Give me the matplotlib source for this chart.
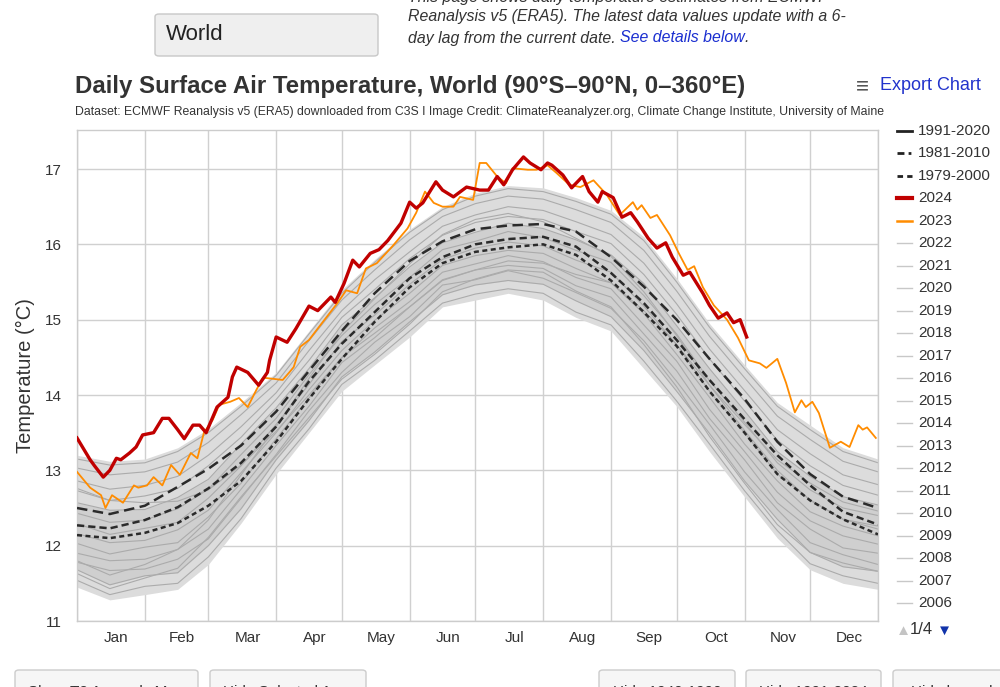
import numpy as np
import matplotlib
matplotlib.use("Agg")
from matplotlib import pyplot as plt
from matplotlib.patches import FancyBboxPatch
from matplotlib.lines import Line2D

plt.rcParams['font.family'] = ['Liberation Sans', 'DejaVu Sans']

# day-of-year grid (leap year) used for climatologies and the grey years
days = [0, 15, 31, 46, 60, 75, 91, 106, 121, 136, 152, 167, 182, 197, 213,
        228, 244, 259, 274, 289, 305, 320, 335, 350, 366]
month_starts = [0, 31, 60, 91, 121, 152, 182, 213, 244, 274, 305, 335, 366]
months = ["Jan", "Feb", "Mar", "Apr", "May", "Jun", "Jul", "Aug", "Sep",
          "Oct", "Nov", "Dec"]

clim_1991_2020 = [12.50, 12.42, 12.53, 12.78, 13.02, 13.33, 13.78, 14.32, 14.85, 15.35, 15.78, 16.04, 16.20,
                  16.25, 16.27, 16.17, 15.83, 15.44, 15.00, 14.48, 13.95, 13.38, 12.95, 12.65, 12.50]
clim_1981_2010 = [12.27, 12.23, 12.34, 12.51, 12.76, 13.10, 13.58, 14.18, 14.68, 15.10, 15.55, 15.83, 16.00,
                  16.07, 16.10, 15.97, 15.62, 15.22, 14.73, 14.20, 13.68, 13.20, 12.80, 12.45, 12.28]
clim_1979_2000 = [12.14, 12.10, 12.17, 12.30, 12.53, 12.86, 13.38, 13.95, 14.48, 14.97, 15.43, 15.75, 15.90,
                  15.96, 16.00, 15.86, 15.52, 15.10, 14.65, 14.05, 13.50, 12.95, 12.60, 12.35, 12.15]

# spread of the grey 1940-2022 years (lowest / highest)
grey_low = [11.45, 11.28, 11.35, 11.42, 11.75, 12.30, 12.95, 13.50, 14.05, 14.40, 14.77, 15.17, 15.26,
            15.35, 15.26, 15.03, 14.85, 14.35, 13.85, 13.25, 12.65, 12.10, 11.68, 11.50, 11.42]
grey_high = [13.20, 13.12, 13.15, 13.30, 13.55, 13.90, 14.30, 14.85, 15.40, 15.80, 16.20, 16.50, 16.68,
             16.78, 16.75, 16.62, 16.45, 16.10, 15.55, 14.95, 14.40, 13.90, 13.60, 13.30, 13.15]

grey_01 = [11.54, 11.35, 11.46, 11.50, 11.85, 12.36, 13.03, 13.55, 14.14, 14.46, 14.85, 15.22, 15.34,
           15.41, 15.35, 15.10, 14.93, 14.45, 13.92, 13.35, 12.73, 12.20, 11.76, 11.60, 11.50]
grey_02 = [11.68, 11.48, 11.60, 11.64, 12.00, 12.49, 13.14, 13.66, 14.24, 14.57, 14.97, 15.33, 15.46,
           15.52, 15.47, 15.25, 15.04, 14.59, 14.05, 13.49, 12.86, 12.35, 11.91, 11.72, 11.66]
grey_03 = [11.78, 11.67, 11.69, 11.82, 12.09, 12.63, 13.21, 13.79, 14.30, 14.70, 15.04, 15.46, 15.53,
           15.65, 15.55, 15.36, 15.15, 14.72, 14.18, 13.61, 12.98, 12.48, 12.04, 11.88, 11.75]
grey_04 = [11.90, 11.80, 11.82, 11.95, 12.22, 12.75, 13.33, 13.85, 14.43, 14.76, 15.17, 15.52, 15.66,
           15.72, 15.68, 15.45, 15.30, 14.81, 14.32, 13.69, 13.14, 12.57, 12.22, 11.97, 11.90]
grey_05 = [12.03, 11.89, 11.98, 12.04, 12.38, 12.83, 13.42, 13.96, 14.49, 14.89, 15.24, 15.63, 15.74,
           15.85, 15.77, 15.56, 15.41, 14.93, 14.45, 13.81, 13.25, 12.71, 12.33, 12.13, 12.02]
grey_06 = [12.16, 12.04, 12.07, 12.21, 12.47, 12.97, 13.50, 14.07, 14.59, 14.99, 15.35, 15.72, 15.85,
           15.92, 15.88, 15.68, 15.49, 15.08, 14.54, 13.97, 13.35, 12.86, 12.45, 12.26, 12.13]
grey_07 = [12.29, 12.15, 12.23, 12.31, 12.63, 13.06, 13.61, 14.14, 14.71, 15.06, 15.47, 15.80, 15.95,
           16.03, 15.98, 15.79, 15.63, 15.18, 14.67, 14.05, 13.50, 12.95, 12.61, 12.35, 12.26]
grey_08 = [12.43, 12.31, 12.34, 12.49, 12.75, 13.21, 13.69, 14.27, 14.79, 15.20, 15.56, 15.93, 16.04,
           16.17, 16.09, 15.92, 15.76, 15.32, 14.81, 14.19, 13.64, 13.10, 12.74, 12.50, 12.40]
grey_09 = [12.57, 12.47, 12.48, 12.64, 12.88, 13.35, 13.83, 14.35, 14.93, 15.29, 15.70, 16.02, 16.16,
           16.28, 16.21, 16.06, 15.86, 15.48, 14.92, 14.35, 13.79, 13.25, 12.92, 12.65, 12.54]
grey_10 = [12.73, 12.60, 12.66, 12.76, 13.06, 13.44, 13.94, 14.46, 15.03, 15.40, 15.81, 16.12, 16.29,
           16.37, 16.33, 16.17, 16.01, 15.60, 15.07, 14.48, 13.92, 13.40, 13.06, 12.80, 12.67]
grey_11 = [12.86, 12.75, 12.80, 12.92, 13.20, 13.58, 14.03, 14.59, 15.12, 15.53, 15.90, 16.24, 16.39,
           16.50, 16.45, 16.30, 16.13, 15.75, 15.21, 14.61, 14.06, 13.54, 13.22, 12.94, 12.81]
grey_12 = [13.03, 12.94, 12.98, 13.11, 13.37, 13.74, 14.16, 14.72, 15.26, 15.66, 16.06, 16.37, 16.54,
           16.64, 16.60, 16.46, 16.29, 15.92, 15.38, 14.78, 14.23, 13.72, 13.41, 13.12, 12.98]
grey_13 = [13.15, 13.07, 13.10, 13.25, 13.50, 13.85, 14.26, 14.81, 15.35, 15.76, 16.16, 16.46, 16.64,
           16.74, 16.70, 16.57, 16.40, 16.05, 15.50, 14.90, 14.35, 13.85, 13.54, 13.25, 13.10]
grey_14 = [11.80, 11.61, 11.75, 11.95, 12.34, 12.94, 13.58, 14.22, 14.83, 15.28, 15.74, 16.13, 16.33,
           16.41, 16.30, 16.08, 15.84, 15.37, 14.79, 14.13, 13.53, 13.00, 12.60, 12.35, 12.22]
grey_15 = [12.76, 12.60, 12.57, 12.59, 12.74, 13.07, 13.52, 14.00, 14.50, 14.82, 15.17, 15.53, 15.66,
           15.78, 15.75, 15.60, 15.49, 15.12, 14.67, 14.13, 13.61, 13.14, 12.83, 12.58, 12.46]
grey_16 = [11.63, 11.43, 11.57, 11.70, 12.11, 12.65, 13.19, 13.70, 14.21, 14.54, 14.94, 15.37, 15.54,
           15.66, 15.63, 15.38, 15.17, 14.67, 14.11, 13.45, 12.83, 12.28, 11.91, 11.77, 11.66]

days_2024 = [0, 6, 8, 12, 15, 18, 20, 24, 27, 30, 35, 39, 42, 46, 49, 53, 56, 59, 64, 69, 71, 73, 78,
             83, 87, 88, 91, 96, 100, 106, 110, 116, 118, 122, 126, 129, 134, 138, 142, 148, 152, 155,
             158, 164, 167, 172, 178, 184, 188, 192, 195, 199, 204, 207, 212, 215, 217, 222, 226, 231,
             234, 238, 240, 245, 249, 253, 256, 261, 265, 269, 272, 277, 280, 286, 289, 293, 297, 300,
             303, 306]
temp_2024 = [13.43, 13.14, 13.06, 12.91, 13.00, 13.16, 13.14, 13.23, 13.31, 13.47, 13.50, 13.69, 13.69,
             13.54, 13.42, 13.60, 13.60, 13.50, 13.84, 13.97, 14.24, 14.37, 14.30, 14.13, 14.30, 14.46,
             14.77, 14.70, 14.88, 15.18, 15.12, 15.30, 15.23, 15.48, 15.79, 15.70, 15.88, 15.93, 16.05,
             16.28, 16.56, 16.48, 16.55, 16.83, 16.72, 16.63, 16.76, 16.72, 16.72, 16.90, 16.79, 16.99,
             17.16, 17.08, 16.99, 17.08, 17.05, 16.92, 16.75, 16.90, 16.70, 16.56, 16.70, 16.62, 16.36,
             16.42, 16.30, 16.08, 15.95, 16.02, 15.83, 15.59, 15.63, 15.35, 15.19, 15.02, 15.09, 14.96,
             15.00, 14.77]

days_2023 = [0, 6, 11, 13, 16, 21, 26, 28, 32, 35, 39, 43, 47, 52, 55, 58, 62, 65, 70, 74, 78, 82, 85,
             94, 97, 99, 102, 106, 111, 119, 123, 128, 132, 137, 144, 151, 155, 159, 163, 167, 172, 175,
             181, 184, 187, 192, 196, 199, 206, 210, 215, 219, 225, 230, 236, 242, 248, 254, 256, 258,
             262, 265, 271, 275, 279, 282, 286, 291, 297, 302, 307, 312, 315, 320, 324, 328, 331, 333,
             336, 339, 344, 349, 353, 357, 359, 361, 365]
temp_2023 = [12.98, 12.77, 12.67, 12.50, 12.67, 12.57, 12.80, 12.77, 12.80, 12.91, 12.80, 13.07, 12.94,
             13.23, 13.16, 13.50, 13.67, 13.87, 13.91, 13.96, 13.84, 14.07, 14.23, 14.20, 14.30, 14.37,
             14.64, 14.73, 14.92, 15.22, 15.39, 15.35, 15.68, 15.75, 15.97, 16.21, 16.42, 16.70, 16.55,
             16.50, 16.50, 16.63, 16.59, 17.08, 17.08, 16.90, 16.81, 17.01, 16.99, 16.99, 17.05, 16.95,
             16.79, 16.76, 16.85, 16.66, 16.39, 16.56, 16.46, 16.52, 16.35, 16.39, 16.12, 15.88, 15.66,
             15.71, 15.43, 15.19, 15.00, 14.76, 14.46, 14.42, 14.36, 14.48, 14.16, 13.77, 13.93, 13.84,
             13.91, 13.76, 13.30, 13.38, 13.31, 13.60, 13.54, 13.57, 13.43]

legend_labels = ["1991-2020", "1981-2010", "1979-2000", "2024", "2023", "2022", "2021", "2020",
                 "2019", "2018", "2017", "2016", "2015", "2014", "2013", "2012", "2011", "2010",
                 "2009", "2008", "2007", "2006"]

grey_years = [grey_01, grey_02, grey_03, grey_04, grey_05, grey_06, grey_07, grey_08,
              grey_09, grey_10, grey_11, grey_12, grey_13, grey_14, grey_15, grey_16]

W, H = 1000, 687


def fx(x):
    return x / W


def fy(y):
    return 1 - y / H


fig = plt.figure(figsize=(10, 6.87), dpi=100)
ax = fig.add_axes([fx(77), fy(621), (878 - 77) / W, (621 - 130) / H])

# grey years: light outer spread, denser core, then the individual lines
ax.fill_between(days, grey_low, grey_high, color="#dcdcdc", lw=0, zorder=1)
ax.fill_between(days, grey_02, grey_09, color="#cfcfcf", lw=0, zorder=1)
for g in grey_years:
    ax.plot(days, g, color="#ababab", lw=0.8, zorder=2)

dark = "#2b2b2b"
ax.plot(days, clim_1979_2000, color=dark, lw=1.8, ls=(0, (2.0, 1.4)), zorder=3)
ax.plot(days, clim_1981_2010, color=dark, lw=1.8, ls=(0, (2.9, 1.6)), zorder=3)
ax.plot(days, clim_1991_2020, color=dark, lw=1.8, ls=(0, (4.2, 2.2)), zorder=3)
ax.plot(days_2023, temp_2023, color="#ff8c00", lw=1.3, zorder=4)
ax.plot(days_2024, temp_2024, color="#c00000", lw=2.4, zorder=5)

ax.set_xlim(0, 366)
ax.set_ylim(11, 17 + 39 / 75.33)
ax.set_xticks(month_starts)
ax.set_xticklabels([])
ax.set_xticks([(month_starts[i] + month_starts[i + 1]) / 2 + 2.5 for i in range(12)], minor=True)
ax.set_xticklabels(months, minor=True)
ax.tick_params(axis="x", which="both", length=0, pad=7, labelsize=11, labelcolor="#333333")
ax.set_yticks([11, 12, 13, 14, 15, 16, 17])
ax.tick_params(axis="y", length=0, pad=11, labelsize=11, labelcolor="#333333")
ax.grid(True, which="major", color="#d0d0d0", lw=1, zorder=0)
for s in ax.spines.values():
    s.set_color("#cccccc")
    s.set_linewidth(1)
ax.set_axisbelow(True)

fig.text(fx(25), fy(376), "Temperature (°C)", rotation=90, fontsize=14.5,
         color="#333333", ha="center", va="center")

# titles
fig.text(fx(75), fy(86), "Daily Surface Air Temperature, World (90°S–90°N, 0–360°E)",
         fontsize=17.3, fontweight="bold", color="#333333", va="center")
fig.text(fx(75), fy(112), "Dataset: ECMWF Reanalysis v5 (ERA5) downloaded from C3S I Image Credit: "
         "ClimateReanalyzer.org, Climate Change Institute, University of Maine",
         fontsize=8.8, color="#333333", va="center")
fig.text(fx(856), fy(87), "≡", fontsize=16, color="#555555", va="center")
fig.text(fx(880), fy(86), "Export Chart", fontsize=13, color="#2233cc", va="center")

# legend
ys = np.linspace(131, 603, len(legend_labels))
styles = [("#222222", 2, "-"), ("#222222", 2, (0, (2.5, 1.5, 1, 1.5))), ("#222222", 2, (0, (2, 1.5))),
          ("#c00000", 3, "-"), ("#ff8c00", 1.8, "-")]
for i, (lab, y) in enumerate(zip(legend_labels, ys)):
    if i < len(styles):
        c, lw, ls = styles[i]
    else:
        c, lw, ls = "#c8c8c8", 1, "-"
    fig.add_artist(Line2D([fx(897), fx(912)], [fy(y), fy(y)], color=c, lw=lw, ls=ls))
    fig.text(fx(918), fy(y), lab, fontsize=11, color="#333333", va="center")
fig.text(fx(896), fy(631), "▲", fontsize=11, color="#c4c4c4", va="center")
fig.text(fx(910), fy(630), "1/4", fontsize=12, color="#333333", va="center")
fig.text(fx(937), fy(631), "▼", fontsize=11, color="#1133aa", va="center")

# page elements around the chart
fig.add_artist(FancyBboxPatch((fx(155), fy(56)), (378 - 155) / W, 42 / H,
                              boxstyle="round,pad=0,rounding_size=0.004",
                              facecolor="#efefef", edgecolor="#c8c8c8", lw=1))
fig.text(fx(166), fy(35), "World", fontsize=16, color="#222222", va="center")

fig.text(fx(408), fy(-3), "This page shows daily temperature estimates from ECMWF",
         fontsize=11.4, style="italic", color="#333333", va="center")
fig.text(fx(408), fy(17), "Reanalysis v5 (ERA5). The latest data values update with a 6-",
         fontsize=11.4, style="italic", color="#333333", va="center")
t3 = fig.text(fx(408), fy(38), "day lag from the current date. ",
              fontsize=11.4, style="italic", color="#333333", va="center")
r = fig.canvas.get_renderer()
bb = t3.get_window_extent(r)
t4 = fig.text(bb.x1 / W, fy(38), "See details below",
              fontsize=11.4, style="italic", color="#1a2ed0", va="center")
bb4 = t4.get_window_extent(r)
fig.text(bb4.x1 / W, fy(38), ".", fontsize=11.4, style="italic", color="#333333", va="center")

buttons = [(15, 198, "Show T2 Anomaly Map"), (210, 366, "Hide Selected Area"),
           (599, 735, "Hide 1940-1990"), (746, 881, "Hide 1991-2024"), (893, 1010, "Hide legend")]
for x0, x1, lab in buttons:
    fig.add_artist(FancyBboxPatch((fx(x0), fy(702)), (x1 - x0) / W, 32 / H,
                                  boxstyle="round,pad=0,rounding_size=0.004",
                                  facecolor="#f6f6f6", edgecolor="#cccccc", lw=1))
    fig.text(fx((x0 + x1) / 2), fy(692), lab, fontsize=11, color="#333333",
             ha="center", va="center")

fig.savefig("out.png", dpi=100)
